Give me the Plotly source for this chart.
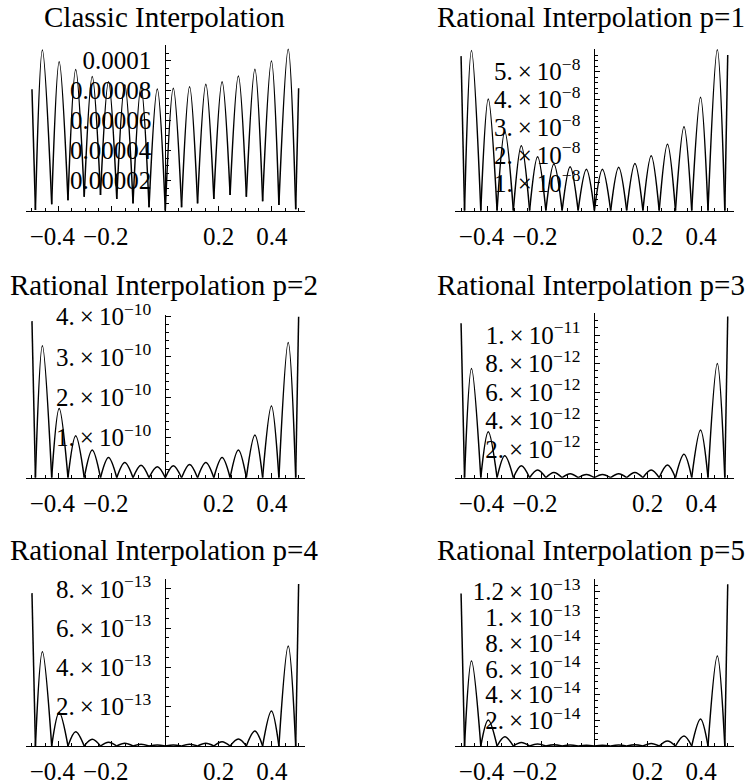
import plotly.graph_objects as go

W, H = 755, 781

titles = ["Classic Interpolation", "Rational Interpolation p=1", "Rational Interpolation p=2",
          "Rational Interpolation p=3", "Rational Interpolation p=4", "Rational Interpolation p=5"]

# interpolation nodes (zeros of the error) and lobe maxima positions
node_x = [-0.487, -0.426, -0.365, -0.304, -0.243, -0.182, -0.121, -0.061, 0.0,
          0.061, 0.121, 0.182, 0.243, 0.304, 0.365, 0.426, 0.489]
peak_x = [-0.461, -0.398, -0.336, -0.274, -0.213, -0.152, -0.091, -0.030,
          0.030, 0.091, 0.152, 0.213, 0.274, 0.336, 0.398, 0.461]
end_x = [-0.5, 0.5]

# error values
classic_peaks = [10.71e-5, 9.93e-5, 9.42e-5, 8.95e-5, 8.60e-5, 8.40e-5, 8.25e-5, 8.12e-5,
                 8.16e-5, 8.27e-5, 8.43e-5, 8.60e-5, 8.98e-5, 9.43e-5, 9.98e-5, 10.76e-5]
classic_cusps = [0.05e-5, 0.43e-5, 0.70e-5, 0.93e-5, 1.05e-5, 0.78e-5, 0.49e-5, 0.23e-5, 0.0,
                 0.23e-5, 0.49e-5, 0.78e-5, 1.05e-5, 0.93e-5, 0.63e-5, 0.38e-5, 0.09e-5]
classic_ends = [8.09e-5, 8.16e-5]

p1_peaks = [5.76e-8, 4.02e-8, 2.85e-8, 2.34e-8, 1.94e-8, 1.68e-8, 1.58e-8, 1.49e-8,
            1.49e-8, 1.56e-8, 1.70e-8, 1.98e-8, 2.39e-8, 3.02e-8, 4.08e-8, 5.80e-8]
p1_ends = [5.56e-8, 5.60e-8]

p2_peaks = [3.28e-10, 1.72e-10, 1.04e-10, 0.69e-10, 0.50e-10, 0.38e-10, 0.31e-10, 0.27e-10,
            0.30e-10, 0.33e-10, 0.38e-10, 0.50e-10, 0.69e-10, 1.06e-10, 1.78e-10, 3.36e-10]
p2_ends = [3.89e-10, 4.00e-10]

p3_peaks = [7.66e-12, 3.22e-12, 1.54e-12, 0.84e-12, 0.54e-12, 0.37e-12, 0.28e-12, 0.23e-12,
            0.23e-12, 0.28e-12, 0.37e-12, 0.54e-12, 0.89e-12, 1.64e-12, 3.34e-12, 8.01e-12]
p3_ends = [10.82e-12, 11.29e-12]

p4_peaks = [4.80e-13, 1.71e-13, 0.73e-13, 0.34e-13, 0.19e-13, 0.14e-13, 0.09e-13, 0.05e-13,
            0.05e-13, 0.09e-13, 0.14e-13, 0.22e-13, 0.36e-13, 0.76e-13, 1.78e-13, 5.09e-13]
p4_ends = [7.78e-13, 8.25e-13]

p5_peaks = [6.60e-14, 2.02e-14, 0.72e-14, 0.28e-14, 0.16e-14, 0.10e-14, 0.08e-14, 0.05e-14,
            0.05e-14, 0.08e-14, 0.10e-14, 0.20e-14, 0.39e-14, 0.78e-14, 2.10e-14, 6.99e-14]
p5_ends = [11.85e-14, 12.57e-14]

rational_cusps = [0.0, 0.0, 0.0, 0.0, 0.0, 0.0, 0.0, 0.0, 0.0,
                  0.0, 0.0, 0.0, 0.0, 0.0, 0.0, 0.0, 0.0]

# tick labels (negative labels: digits centred on the tick, minus sign hanging left)
xtick_vals = [-0.4, -0.2, 0.2, 0.4]
xtick_text = ["\u22120.4\u2002", "\u22120.2\u2002", "0.2", "0.4"]

classic_yticks = [0.00002, 0.00004, 0.00006, 0.00008, 0.0001]
classic_ytext = ["0.00002", "0.00004", "0.00006", "0.00008", "0.0001"]
p1_yticks = [1e-8, 2e-8, 3e-8, 4e-8, 5e-8]
p1_ytext = [("1", "8"), ("2", "8"), ("3", "8"), ("4", "8"), ("5", "8")]
p2_yticks = [1e-10, 2e-10, 3e-10, 4e-10]
p2_ytext = [("1", "10"), ("2", "10"), ("3", "10"), ("4", "10")]
p3_yticks = [2e-12, 4e-12, 6e-12, 8e-12, 1e-11]
p3_ytext = [("2", "12"), ("4", "12"), ("6", "12"), ("8", "12"), ("1", "11")]
p4_yticks = [2e-13, 4e-13, 6e-13, 8e-13]
p4_ytext = [("2", "13"), ("4", "13"), ("6", "13"), ("8", "13")]
p5_yticks = [2e-14, 4e-14, 6e-14, 8e-14, 1e-13, 1.2e-13]
p5_ytext = [("2", "14"), ("4", "14"), ("6", "14"), ("8", "14"), ("1", "13"), ("1.2", "13")]


def sci(pairs):
    out = []
    for m, e in pairs:
        mant = m if "." in m else m + "."
        out.append(f"{mant}\u2009\u00d7\u200910<sup>\u2212{e}</sup>")
    return out


panels = [
    (classic_peaks, classic_cusps, classic_ends, classic_yticks, classic_ytext, 5e-6),
    (p1_peaks, rational_cusps, p1_ends, p1_yticks, sci(p1_ytext), 2e-9),
    (p2_peaks, rational_cusps, p2_ends, p2_yticks, sci(p2_ytext), 2e-11),
    (p3_peaks, rational_cusps, p3_ends, p3_yticks, sci(p3_ytext), 5e-13),
    (p4_peaks, rational_cusps, p4_ends, p4_yticks, sci(p4_ytext), 5e-14),
    (p5_peaks, rational_cusps, p5_ends, p5_yticks, sci(p5_ytext), 5e-15),
]

# layout geometry (pixels)
col_center = [165.3, 594.4]
half_w = 139.2
row_axis = [210.7, 477.7, 746.0]
row_top = [[45.0, 49.3], [315.0, 313.3], [579.3, 579.3]]
y_scale_px = [150.0 / 1e-4, 27.8 / 1e-8, 40.25 / 1e-10, 14.27 / 1e-12, 19.65 / 1e-13, 12.87 / 1e-14]
title_x = [164, 591]
title_y = [17, 284.5, 549.5]

FONT = "Liberation Serif, Times New Roman, serif"

fig = go.Figure()
layout = dict(width=W, height=H, margin=dict(l=0, r=0, t=0, b=0, pad=0, autoexpand=False),
              template="none",
              paper_bgcolor="white", plot_bgcolor="white", showlegend=False,
              annotations=[])


def build(peaks, cusps, ends):
    xs = [end_x[0], node_x[0], None]
    ys = [ends[0], cusps[0], None]
    for i in range(len(peaks)):
        xs += [node_x[i], peak_x[i], node_x[i + 1], None]
        ys += [cusps[i], peaks[i], cusps[i + 1], None]
    xs += [node_x[-1], end_x[1]]
    ys += [cusps[-1], ends[1]]
    return xs, ys


for k, (peaks, cusps, ends, yt, ytt, ydt) in enumerate(panels):
    r, c = divmod(k, 2)
    sfx = "" if k == 0 else str(k + 1)
    xs, ys = build(peaks, cusps, ends)
    fig.add_trace(go.Scatter(x=xs, y=ys, mode="lines",
                             line=dict(color="black", width=1.5, shape="spline", smoothing=1),
                             xaxis="x" + sfx, yaxis="y" + sfx, hoverinfo="skip"))
    cx = col_center[c]
    ax_px = row_axis[r]
    top_px = row_top[r][c]
    ymax = (ax_px - top_px) / y_scale_px[k]
    layout["xaxis" + sfx] = dict(
        domain=[(cx - half_w) / W, (cx + half_w) / W], range=[-0.522, 0.522],
        anchor="y" + sfx, showline=True, linecolor="black", linewidth=1,
        ticks="inside", ticklen=5, tickwidth=1, tickcolor="black",
        tickmode="array", tickvals=xtick_vals, ticktext=xtick_text, tickangle=0,
        tickfont=dict(family=FONT, size=25, color="black"),
        ticklabelstandoff=3, automargin=False,
        showgrid=False, zeroline=False, fixedrange=True,
        minor=dict(tickmode="linear", tick0=0, dtick=0.05, ticks="inside",
                   ticklen=3, tickwidth=1, tickcolor="black", showgrid=False))
    layout["yaxis" + sfx] = dict(
        domain=[1 - ax_px / H, 1 - top_px / H], range=[0, ymax],
        anchor="free", position=cx / W, side="left",
        showline=True, linecolor="black", linewidth=1,
        ticks="inside", ticklen=5, tickwidth=1, tickcolor="black",
        tickmode="array", tickvals=yt, ticktext=ytt, tickangle=0,
        tickfont=dict(family=FONT, size=25, color="black"),
        ticklabelstandoff=9, automargin=False,
        showgrid=False, zeroline=False, fixedrange=True,
        minor=dict(tickmode="linear", tick0=0, dtick=ydt, ticks="inside",
                   ticklen=3, tickwidth=1, tickcolor="black", showgrid=False))
    layout["annotations"].append(dict(
        text=titles[k], x=title_x[c] / W, y=1 - title_y[r] / H, xref="paper", yref="paper",
        xanchor="center", yanchor="middle", showarrow=False,
        font=dict(family=FONT, size=29, color="black")))

fig.update_layout(**layout)
fig.write_html("out.html", config={"responsive": False, "displayModeBar": False},
               post_script="document.body.style.margin='0';document.body.style.overflow='hidden';")
